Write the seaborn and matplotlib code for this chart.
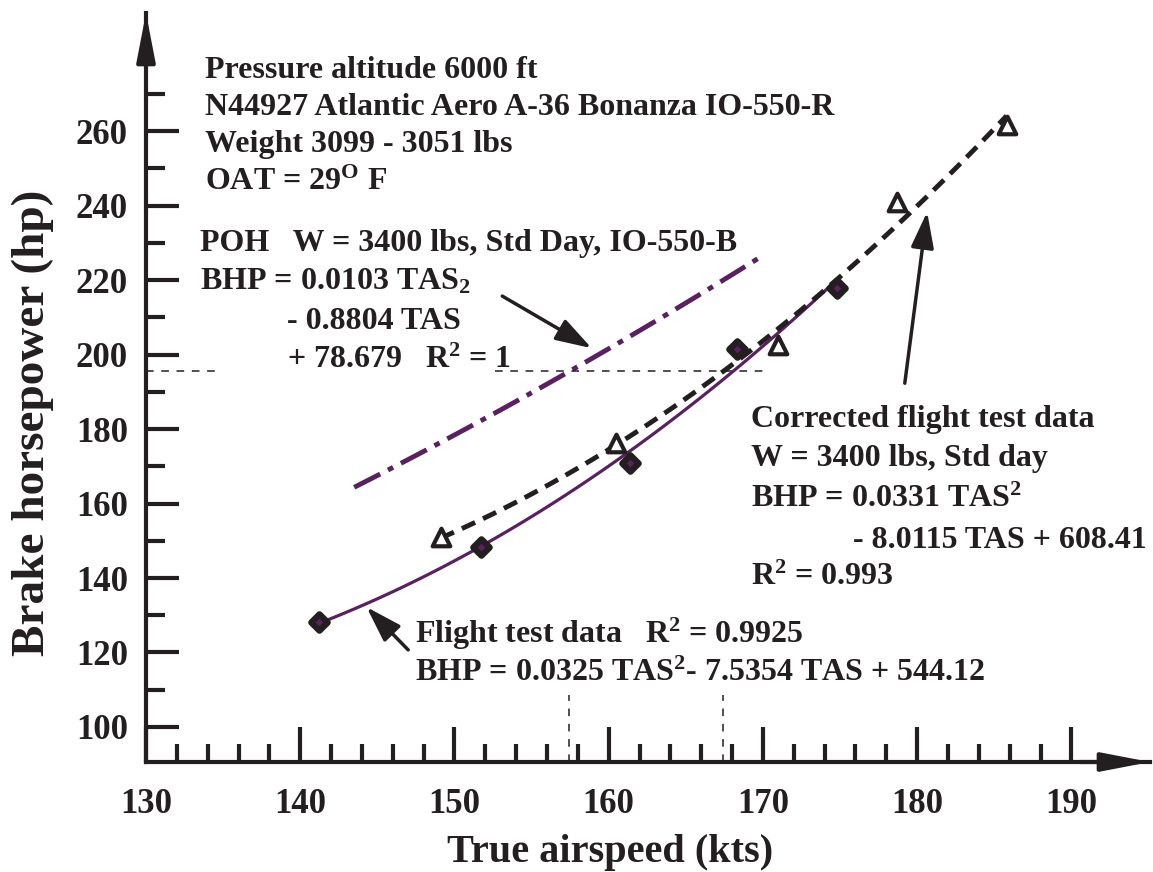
import numpy as np
import matplotlib.pyplot as plt
from matplotlib.ticker import FixedLocator
import seaborn as sns

W, H = 1153, 872
INK = '#231f20'
PURPLE = '#5a2160'

# flight test data (diamonds)
ft_tas = [141.2, 151.7, 161.4, 168.3, 174.8]
ft_bhp = [128.2, 148.3, 170.9, 201.5, 217.9]

# corrected flight test data, W = 3400 lbs, std day (triangles)
cor_tas = [149.1, 160.5, 171.0, 178.7, 185.8]
cor_bhp = [151.0, 176.2, 202.6, 240.9, 261.6]

# POH curve
poh_tas = [143.5, 150, 155, 160, 165, 170]
poh_bhp = [164.5, 178, 190, 201.5, 214, 226.5]

# thin dashed reference lines
ref_bhp = 195.6
ref_tas = [157.4, 167.4]

x_major = [130, 140, 150, 160, 170, 180, 190]
x_minor = [v for v in range(132, 190, 2) if v % 10]
y_major = [100, 120, 140, 160, 180, 200, 220, 240, 260]
y_minor = [110, 130, 150, 170, 190, 210, 230, 250, 270]

sns.set_theme(style='ticks')
plt.rcParams['font.family'] = ['Liberation Serif', 'DejaVu Serif']
plt.rcParams['font.weight'] = 'bold'
plt.rcParams['axes.labelweight'] = 'bold'
plt.rcParams['mathtext.fontset'] = 'custom'
plt.rcParams['mathtext.rm'] = 'Liberation Serif:bold'
plt.rcParams['mathtext.bf'] = 'Liberation Serif:bold'
plt.rcParams['mathtext.it'] = 'Liberation Serif:bold:italic'

fig = plt.figure(figsize=(W / 100, H / 100), dpi=100)
ax = fig.add_axes([146 / W, 1 - 762 / H, 1004 / W, 749 / H])

# fitted curves (2nd order polynomial)
sns.regplot(x=poh_tas, y=poh_bhp, order=2, ci=None, scatter=False, ax=ax, color=PURPLE,
            line_kws=dict(lw=3.5, linestyle=(0, (6, 1.8, 1.2, 1.8))))
sns.regplot(x=ft_tas, y=ft_bhp, order=2, ci=None, scatter=False, ax=ax, color=PURPLE,
            line_kws=dict(lw=2.3, zorder=3))
sns.regplot(x=cor_tas, y=cor_bhp, order=2, ci=None, scatter=False, ax=ax, color=INK,
            line_kws=dict(lw=3.5, linestyle=(0, (3, 1.8)), zorder=4))

sns.scatterplot(x=ft_tas, y=ft_bhp, ax=ax, marker='D', s=70, color=PURPLE,
                edgecolor=INK, linewidth=4.5, zorder=6)
sns.scatterplot(x=cor_tas, y=cor_bhp, ax=ax, marker='^', s=160, color='white',
                edgecolor=INK, linewidth=3, zorder=6)

# reference lines
ref_kw = dict(color=INK, lw=1.1, linestyle=(0, (5, 5)), zorder=2)
ax.plot([130, 134.9], [ref_bhp, ref_bhp], **ref_kw)
ax.plot([152.6, 170.0], [ref_bhp, ref_bhp], **ref_kw)
for t in ref_tas:
    ax.plot([t, t], [90.6, 108.6], **ref_kw)

ax.set_xlim(130, 195.1)
ax.set_ylim(90.6, 291.7)

ax.xaxis.set_major_locator(FixedLocator(x_major))
ax.xaxis.set_minor_locator(FixedLocator(x_minor))
ax.yaxis.set_major_locator(FixedLocator(y_major))
ax.yaxis.set_minor_locator(FixedLocator(y_minor))
ax.tick_params(axis='both', which='both', direction='in', color=INK, width=3,
               labelsize=25, labelcolor=INK)
ax.tick_params(axis='x', which='major', length=25, pad=19)
ax.tick_params(axis='x', which='minor', length=13)
ax.tick_params(axis='y', which='major', length=24, pad=13)
ax.tick_params(axis='y', which='minor', length=14)

sns.despine(ax=ax)
for side in ['left', 'bottom']:
    ax.spines[side].set_linewidth(3)
    ax.spines[side].set_color(INK)

# arrow heads on the axes
head = dict(arrowstyle='-|>,head_length=1.45,head_width=0.28', mutation_scale=20,
            lw=3, color=INK, shrinkA=0, shrinkB=0)
ax.annotate('', xy=(0, 1), xytext=(0, 0.93), xycoords='axes fraction',
            textcoords='axes fraction', arrowprops=head, annotation_clip=False)
ax.annotate('', xy=(1, 0), xytext=(0.93, 0), xycoords='axes fraction',
            textcoords='axes fraction', arrowprops=head, annotation_clip=False)

ax.set_xlabel('True airspeed (kts)', fontsize=29, color=INK, fontweight='bold')
ax.set_ylabel('Brake horsepower (hp)', fontsize=34, color=INK, fontweight='bold')
ax.xaxis.set_label_coords((610 - 146) / 1004, -(834 - 762) / 749)
ax.yaxis.set_label_coords((54 - 146) / 1004, (762 - 423) / 749)

# pointer arrows
ptr = dict(arrowstyle='-|>,head_length=1.1,head_width=0.35', mutation_scale=20,
           lw=2.5, color=INK, shrinkA=0, shrinkB=0)
ax.annotate('', xy=(158.9, 201.7), xytext=(153.1, 215.7), arrowprops=ptr)
ax.annotate('', xy=(180.65, 238.3), xytext=(179.2, 192.3), arrowprops=ptr)
ax.annotate('', xy=(144.3, 132.2), xytext=(147.0, 120.7), arrowprops=ptr)


def label(px, py, s):
    fig.text(px / W, 1 - py / H, s, fontsize=23, color=INK, ha='left', va='baseline')


label(205, 78, 'Pressure altitude 6000 ft')
label(205, 115, 'N44927 Atlantic Aero A-36 Bonanza IO-550-R')
label(205, 152, 'Weight 3099 - 3051 lbs')
label(205, 190, r'OAT = 29$^\mathrm{O}$ F')

label(200, 251, 'POH   W = 3400 lbs, Std Day, IO-550-B')
label(200, 290, r'BHP = 0.0103 TAS$_2$')
label(287, 329, '- 0.8804 TAS')
label(287, 368, r'+ 78.679   R$^2$ = 1')

label(751, 427, 'Corrected flight test data')
label(751, 466, 'W = 3400 lbs, Std day')
label(751, 507, r'BHP = 0.0331 TAS$^2$')
label(853, 548, '- 8.0115 TAS + 608.41')
label(751, 585, r'R$^2$ = 0.993')

label(415, 643, r'Flight test data   R$^2$ = 0.9925')
label(415, 681, r'BHP = 0.0325 TAS$^2$- 7.5354 TAS + 544.12')

fig.savefig('out.png', dpi=100)
